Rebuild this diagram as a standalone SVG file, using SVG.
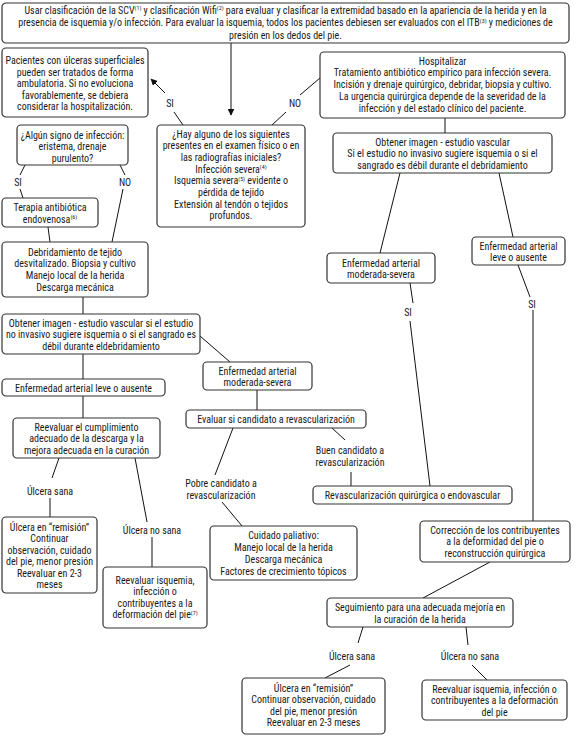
<svg xmlns="http://www.w3.org/2000/svg" width="577" height="747" viewBox="0 0 577 747">
<style>
.box{fill:#fff;stroke:#333;stroke-width:1.2}
.t{font-family:'Liberation Sans Narrow','Roboto Condensed','DejaVu Sans Condensed','Liberation Sans',sans-serif;font-size:10px;fill:#1a1a1a;text-anchor:middle}
.s{font-size:6px}
.c{stroke:#111;stroke-width:1;fill:none}
</style>
<defs>
<marker id="ah" viewBox="0 0 10 10" refX="9" refY="5" markerWidth="7" markerHeight="7" orient="auto" markerUnits="userSpaceOnUse">
<path d="M0,0 L10,5 L0,10 z" fill="#111"/>
</marker>
</defs>
<rect width="577" height="747" fill="#fff"/>

<g id="connectors">
<line class="c" x1="231" y1="42" x2="231" y2="115" marker-end="url(#ah)"/>
<line class="c" x1="183" y1="125" x2="174" y2="112"/>
<line class="c" x1="165" y1="93" x2="151" y2="79" marker-end="url(#ah)"/>
<line class="c" x1="272" y1="125" x2="286" y2="112"/>
<line class="c" x1="300" y1="95" x2="320" y2="78"/>
<line class="c" x1="445" y1="118" x2="445" y2="133"/>
<line class="c" x1="400" y1="173" x2="380" y2="253"/>
<line class="c" x1="499" y1="173" x2="513" y2="237"/>
<line class="c" x1="410" y1="283" x2="413" y2="303"/>
<line class="c" x1="410" y1="321" x2="430" y2="486"/>
<line class="c" x1="518" y1="265" x2="530" y2="297"/>
<line class="c" x1="533" y1="310" x2="533" y2="521"/>
<line class="c" x1="25" y1="165" x2="20" y2="175"/>
<line class="c" x1="20" y1="189" x2="23" y2="198"/>
<line class="c" x1="120" y1="165" x2="125" y2="175"/>
<line class="c" x1="123" y1="189" x2="112" y2="242"/>
<line class="c" x1="48" y1="227" x2="50" y2="242"/>
<line class="c" x1="83" y1="297" x2="83" y2="314"/>
<line class="c" x1="200" y1="336" x2="230" y2="362"/>
<line class="c" x1="83" y1="354" x2="83" y2="379"/>
<line class="c" x1="83" y1="396" x2="83" y2="418"/>
<line class="c" x1="59" y1="458" x2="52" y2="478"/>
<line class="c" x1="50" y1="498" x2="50" y2="517"/>
<line class="c" x1="135" y1="458" x2="147" y2="522"/>
<line class="c" x1="152" y1="537" x2="152" y2="567"/>
<line class="c" x1="257" y1="390" x2="257" y2="410"/>
<line class="c" x1="233" y1="428" x2="215" y2="475"/>
<line class="c" x1="222" y1="502" x2="242" y2="526"/>
<line class="c" x1="332" y1="428" x2="345" y2="440"/>
<line class="c" x1="351" y1="472" x2="351" y2="486"/>
<line class="c" x1="490" y1="562" x2="423" y2="598"/>
<line class="c" x1="363" y1="627" x2="358" y2="643"/>
<line class="c" x1="350" y1="665" x2="325" y2="678"/>
<line class="c" x1="466" y1="627" x2="468" y2="645"/>
<line class="c" x1="472" y1="665" x2="487" y2="680"/>
</g>

<g id="labels">
<text class="t" x="170" y="106.5">SI</text>
<text class="t" x="295" y="106.5">NO</text>
<text class="t" x="408" y="315.5">SI</text>
<text class="t" x="532" y="307.5">SI</text>
<text class="t" x="18" y="185.5">SI</text>
<text class="t" x="125" y="185.5">NO</text>
<text class="t" x="50" y="494.5">Úlcera sana</text>
<text class="t" x="152" y="533.5">Úlcera no sana</text>
<text class="t" x="221" y="486.5">Pobre candidato a</text>
<text class="t" x="221" y="498.5">revascularización</text>
<text class="t" x="350" y="453.5">Buen candidato a</text>
<text class="t" x="350" y="465.5">revascularización</text>
<text class="t" x="352" y="659.5">Úlcera sana</text>
<text class="t" x="470" y="659.5">Úlcera no sana</text>
</g>

<g id="n-top">
<rect class="box" x="2" y="3" width="567" height="40" rx="4"/>
<text class="t" x="285.5" y="13.5">Usar clasificación de la SCV<tspan class="s" dy="-3.5">(1)</tspan><tspan dy="3.5"> y clasificación Wifi</tspan><tspan class="s" dy="-3.5">(2)</tspan><tspan dy="3.5"> para evaluar y clasificar la extremidad basado en la apariencia de la herida y en la</tspan></text>
<text class="t" x="285.5" y="26">presencia de isquemia y/o infección. Para evaluar la isquemia, todos los pacientes debiesen ser evaluados con el ITB<tspan class="s" dy="-3.5">(3)</tspan><tspan dy="3.5"> y mediciones de</tspan></text>
<text class="t" x="285.5" y="38.5">presión en los dedos del pie.</text>
</g>

<g id="n-pacientes">
<rect class="box" x="2" y="48" width="146" height="69" rx="4"/>
<text class="t" x="75" y="64">Pacientes con úlceras superficiales</text>
<text class="t" x="75" y="75.5">pueden ser tratados de forma</text>
<text class="t" x="75" y="87">ambulatoria. Si no evoluciona</text>
<text class="t" x="75" y="98.5">favorablemente, se debiera</text>
<text class="t" x="75" y="110">considerar la hospitalización.</text>
</g>

<g id="n-hay">
<rect class="box" x="157" y="125" width="148" height="102" rx="4"/>
<text class="t" x="231" y="137.5">¿Hay alguno de los siguientes</text>
<text class="t" x="231" y="149.2">presentes en el examen físico o en</text>
<text class="t" x="231" y="160.9">las radiografías iniciales?</text>
<text class="t" x="231" y="172.6">Infección severa<tspan class="s" dy="-3.5">(4)</tspan></text>
<text class="t" x="231" y="184.3">Isquemia severa<tspan class="s" dy="-3.5">(5)</tspan><tspan dy="3.5"> evidente o</tspan></text>
<text class="t" x="231" y="196">pérdida de tejido</text>
<text class="t" x="231" y="207.7">Extensión al tendón o tejidos</text>
<text class="t" x="231" y="219.4">profundos.</text>
</g>

<g id="n-hospitalizar">
<rect class="box" x="320" y="52" width="245" height="66" rx="4"/>
<text class="t" x="442.5" y="64.5">Hospitalizar</text>
<text class="t" x="442.5" y="76.25">Tratamiento antibiótico empírico para infección severa.</text>
<text class="t" x="442.5" y="88">Incisión y drenaje quirúrgico, debridar, biopsia y cultivo.</text>
<text class="t" x="442.5" y="99.75">La urgencia quirúrgica depende de la severidad de la</text>
<text class="t" x="442.5" y="111.5">infección y del estado clínico del paciente.</text>
</g>

<g id="n-obtener-r">
<rect class="box" x="333" y="133" width="219" height="40" rx="4"/>
<text class="t" x="442.5" y="145.5">Obtener imagen - estudio vascular</text>
<text class="t" x="442.5" y="157">Si el estudio no invasivo sugiere isquemia o si el</text>
<text class="t" x="442.5" y="168.5">sangrado es débil durante el debridamiento</text>
</g>

<g id="n-modsev-r">
<rect class="box" x="327" y="253" width="108" height="30" rx="4"/>
<text class="t" x="381" y="266.5">Enfermedad arterial</text>
<text class="t" x="381" y="277.5">moderada-severa</text>
</g>

<g id="n-leve-r">
<rect class="box" x="472" y="237" width="93" height="28" rx="4"/>
<text class="t" x="518.5" y="250">Enfermedad arterial</text>
<text class="t" x="518.5" y="260.5">leve o ausente</text>
</g>

<g id="n-algun">
<rect class="box" x="17" y="125" width="111" height="40" rx="4"/>
<text class="t" x="72.5" y="138.5">¿Algún signo de infección:</text>
<text class="t" x="72.5" y="150">eristema, drenaje</text>
<text class="t" x="72.5" y="161.5">purulento?</text>
</g>

<g id="n-terapia">
<rect class="box" x="2" y="198" width="96" height="29" rx="4"/>
<text class="t" x="50" y="211">Terapia antibiótica</text>
<text class="t" x="50" y="222.5">endovenosa<tspan class="s" dy="-3.5">(6)</tspan></text>
</g>

<g id="n-debrid">
<rect class="box" x="2" y="242" width="146" height="55" rx="4"/>
<text class="t" x="75" y="255.5">Debridamiento de tejido</text>
<text class="t" x="75" y="267.2">desvitalizado. Biopsia y cultivo</text>
<text class="t" x="75" y="278.8">Manejo local de la herida</text>
<text class="t" x="75" y="290.5">Descarga mecánica</text>
</g>

<g id="n-obtener-l">
<rect class="box" x="2" y="314" width="198" height="40" rx="4"/>
<text class="t" x="101" y="326.5">Obtener imagen - estudio vascular si el estudio</text>
<text class="t" x="101" y="338">no invasivo sugiere isquemia o si el sangrado es</text>
<text class="t" x="101" y="349.5">débil durante eldebridamiento</text>
</g>

<g id="n-leve-l">
<rect class="box" x="2" y="379" width="163" height="17" rx="4"/>
<text class="t" x="83.5" y="391.5">Enfermedad arterial leve o ausente</text>
</g>

<g id="n-modsev-m">
<rect class="box" x="203" y="362" width="109" height="28" rx="4"/>
<text class="t" x="257.5" y="374.5">Enfermedad arterial</text>
<text class="t" x="257.5" y="385.5">moderada-severa</text>
</g>

<g id="n-reeval-cumpl">
<rect class="box" x="13" y="418" width="147" height="40" rx="4"/>
<text class="t" x="86.5" y="430.5">Reevaluar el cumplimiento</text>
<text class="t" x="86.5" y="442">adecuado de la descarga y la</text>
<text class="t" x="86.5" y="453.5">mejora adecuada en la curación</text>
</g>

<g id="n-evaluar">
<rect class="box" x="186" y="410" width="180" height="18" rx="4"/>
<text class="t" x="276" y="422.5">Evaluar si candidato a revascularización</text>
</g>

<g id="n-revasc">
<rect class="box" x="313" y="486" width="199" height="18" rx="4"/>
<text class="t" x="412.5" y="498.5">Revascularización quirúrgica o endovascular</text>
</g>

<g id="n-remision-l">
<rect class="box" x="2" y="517" width="95" height="76" rx="4"/>
<text class="t" x="49.5" y="530.5">Úlcera en “remisión”</text>
<text class="t" x="49.5" y="542">Continuar</text>
<text class="t" x="49.5" y="553.5">observación, cuidado</text>
<text class="t" x="49.5" y="565">del pie, menor presión</text>
<text class="t" x="49.5" y="576.5">Reevaluar en 2-3</text>
<text class="t" x="49.5" y="588">meses</text>
</g>

<g id="n-reeval-isq-l">
<rect class="box" x="103" y="567" width="104" height="61" rx="4"/>
<text class="t" x="155" y="583.5">Reevaluar isquemia,</text>
<text class="t" x="155" y="595">infección o</text>
<text class="t" x="155" y="606.5">contribuyentes a la</text>
<text class="t" x="155" y="618">deformación del pie<tspan class="s" dy="-3.5">(7)</tspan></text>
</g>

<g id="n-paliativo">
<rect class="box" x="210" y="526" width="147" height="54" rx="4"/>
<text class="t" x="283.5" y="538.5">Cuidado paliativo:</text>
<text class="t" x="283.5" y="550.5">Manejo local de la herida</text>
<text class="t" x="283.5" y="562.5">Descarga mecánica</text>
<text class="t" x="283.5" y="574.5">Factores de crecimiento tópicos</text>
</g>

<g id="n-correccion">
<rect class="box" x="420" y="521" width="150" height="41" rx="4"/>
<text class="t" x="495" y="533.5">Corrección de los contribuyentes</text>
<text class="t" x="495" y="545">a la deformidad del pie o</text>
<text class="t" x="495" y="556.5">reconstrucción quirúrgica</text>
</g>

<g id="n-seguimiento">
<rect class="box" x="327" y="598" width="186" height="29" rx="4"/>
<text class="t" x="420" y="611">Seguimiento para una adecuada mejoría en</text>
<text class="t" x="420" y="622.5">la curación de la herida</text>
</g>

<g id="n-remision-b">
<rect class="box" x="242" y="678" width="143" height="56" rx="4"/>
<text class="t" x="313.5" y="691.5">Úlcera en “remisión”</text>
<text class="t" x="313.5" y="703">Continuar observación, cuidado</text>
<text class="t" x="313.5" y="714.5">del pie, menor presión</text>
<text class="t" x="313.5" y="726">Reevaluar en 2-3 meses</text>
</g>

<g id="n-reeval-b">
<rect class="box" x="422" y="680" width="145" height="40" rx="4"/>
<text class="t" x="494.5" y="692.5">Reevaluar isquemia, infección o</text>
<text class="t" x="494.5" y="704">contribuyentes a la deformación</text>
<text class="t" x="494.5" y="715.5">del pie</text>
</g>
</svg>
